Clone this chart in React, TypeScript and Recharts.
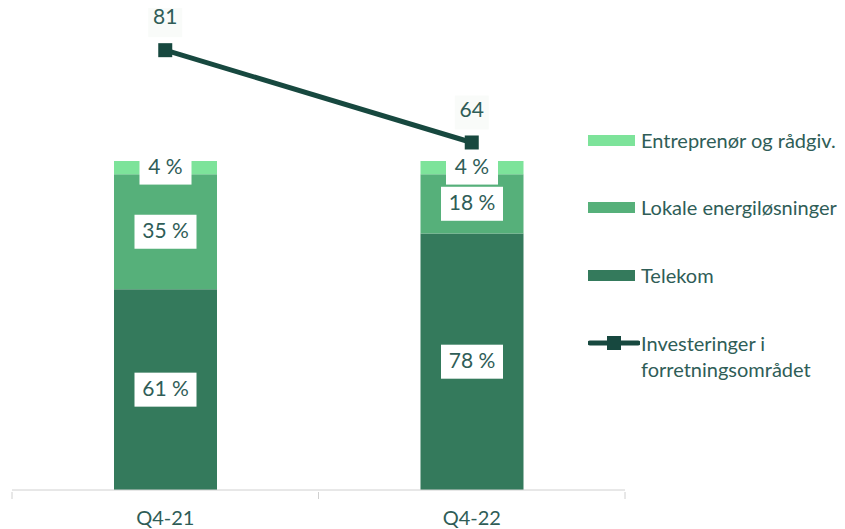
import { ComposedChart, Bar, Line, XAxis, YAxis, LabelList } from 'recharts';

const categories = ['Q4-21', 'Q4-22'];
const telekom = [61, 78];
const lokale = [35, 18];
const entreprenor = [4, 4];
const investeringer = [81, 64];

const data = categories.map((name, i) => ({
  name,
  telekom: telekom[i],
  lokale: lokale[i],
  entreprenor: entreprenor[i],
  investeringer: investeringer[i],
}));

const TEXT = '#2f5d57';
const FONT = 'Lato, "Noto Sans", sans-serif';
const C_LIGHT = '#7de39a';
const C_MID = '#56b07a';
const C_DARK = '#347a5c';
const C_LINE = '#17483f';

const BarLabel = (props: any) => {
  const { x, y, width, height, value } = props;
  const text = `${value} %`;
  const w = text.length * 10 + 22;
  const cx = x + width / 2;
  const cy = y + height / 2;
  return (
    <g>
      <rect x={cx - w / 2} y={cy - 17} width={w} height={34} fill="#fff" />
      <text x={cx} y={cy + 1} textAnchor="middle" dominantBaseline="middle" fill={TEXT} fontSize={21} fontFamily={FONT}>
        {text}
      </text>
    </g>
  );
};

const LineLabel = (props: any) => {
  const { x, y, value } = props;
  return (
    <g>
      <rect x={x - 17} y={y - 47} width={34} height={34} fill="#f9fbf9" />
      <text x={x} y={y - 31} textAnchor="middle" dominantBaseline="middle" fill={TEXT} fontSize={21} fontFamily={FONT}>
        {value}
      </text>
    </g>
  );
};

const Tick = (props: any) => {
  const { x, y, payload } = props;
  const half = 306.5 / 2;
  return (
    <g>
      <line x1={x - half} x2={x - half} y1={y} y2={y + 7} stroke="#d0d0d0" />
      <line x1={x + half} x2={x + half} y1={y} y2={y + 7} stroke="#d0d0d0" />
      <text x={x} y={y + 28} textAnchor="middle" dominantBaseline="middle" fill={TEXT} fontSize={20} fontFamily={FONT}>
        {payload.value}
      </text>
    </g>
  );
};

const legendItems = [
  { label: 'Entreprenør og rådgiv.', color: C_LIGHT, top: 127 },
  { label: 'Lokale energiløsninger', color: C_MID, top: 194 },
  { label: 'Telekom', color: C_DARK, top: 262 },
];

export default function App() {
  return (
    <div style={{ position: 'relative', width: 837, height: 529, marginTop: -8, fontFamily: FONT }}>
      <ComposedChart width={837} height={529} data={data} margin={{ top: 10, right: 220, bottom: 9, left: 4 }}>
        <XAxis
          dataKey="name"
          axisLine={{ stroke: '#d0d0d0' }}
          tickLine={false}
          tickSize={0}
          tick={<Tick />}
          interval={0}
        />
        <YAxis yAxisId="pct" hide domain={[0, 145.9]} />
        <YAxis yAxisId="inv" hide domain={[0, 88.4]} />
        <Bar yAxisId="pct" dataKey="telekom" stackId="s" fill={C_DARK} barSize={103} isAnimationActive={false}>
          <LabelList dataKey="telekom" content={<BarLabel />} />
        </Bar>
        <Bar yAxisId="pct" dataKey="lokale" stackId="s" fill={C_MID} barSize={103} isAnimationActive={false}>
          <LabelList dataKey="lokale" content={<BarLabel />} />
        </Bar>
        <Bar yAxisId="pct" dataKey="entreprenor" stackId="s" fill={C_LIGHT} barSize={103} isAnimationActive={false}>
          <LabelList dataKey="entreprenor" content={<BarLabel />} />
        </Bar>
        <Line
          yAxisId="inv"
          dataKey="investeringer"
          stroke={C_LINE}
          strokeWidth={5}
          isAnimationActive={false}
          dot={(p: any) => <rect key={p.index} x={p.cx - 7} y={p.cy - 7} width={14} height={14} fill={C_LINE} />}
        >
          <LabelList dataKey="investeringer" content={<LineLabel />} />
        </Line>
      </ComposedChart>
      {legendItems.map((it) => (
        <div
          key={it.label}
          style={{ position: 'absolute', left: 580, top: it.top, display: 'flex', alignItems: 'center', color: TEXT, fontSize: 20, lineHeight: '26px', whiteSpace: 'nowrap' }}
        >
          <div style={{ width: 47, height: 11, background: it.color, marginRight: 6 }} />
          <span>{it.label}</span>
        </div>
      ))}
      <div
        style={{ position: 'absolute', left: 580, top: 330, display: 'flex', alignItems: 'flex-start', color: TEXT, fontSize: 20, lineHeight: '26px', whiteSpace: 'nowrap' }}
      >
        <svg width={52} height={26} style={{ marginRight: 1 }}>
          <line x1={2} x2={50} y1={13} y2={13} stroke={C_LINE} strokeWidth={5} strokeLinecap="round" />
          <rect x={19} y={6} width={14} height={14} fill={C_LINE} />
        </svg>
        <span>
          Investeringer i
          <br />
          forretningsområdet
        </span>
      </div>
    </div>
  );
}
